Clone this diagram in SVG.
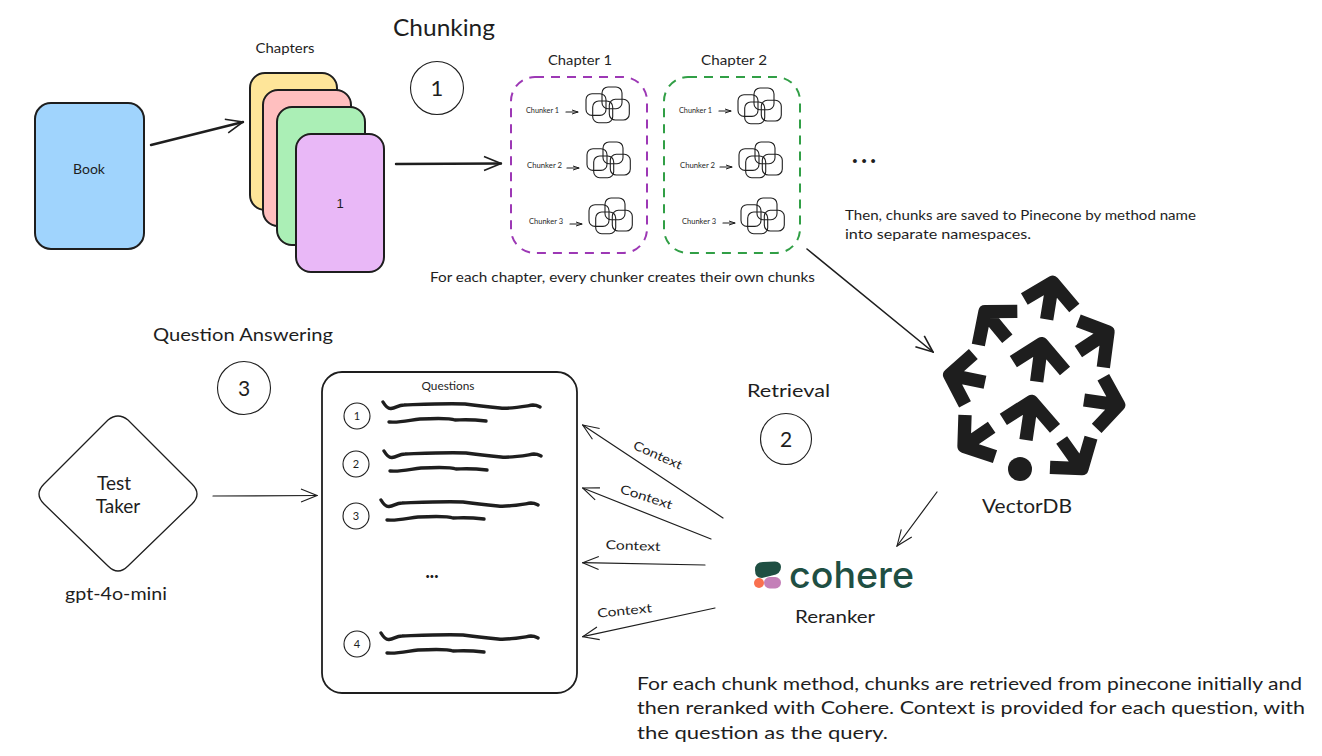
<svg xmlns="http://www.w3.org/2000/svg" xmlns:xlink="http://www.w3.org/1999/xlink" width="1322" height="756" viewBox="0 0 1322 756">
<style>
text{font-family:"Lato","Noto Sans",sans-serif;fill:#1e1e1e}
.m{text-anchor:middle}
.card{stroke:#1e1e1e;stroke-width:2}
.line{fill:none;stroke:#1e1e1e;stroke-width:1.2;stroke-linecap:round;stroke-linejoin:round}
.thick{stroke-width:2.4}
.num{fill:#fff;stroke:#1e1e1e;stroke-width:1.1}
.wave{fill:none;stroke:#1e1e1e;stroke-width:3.4;stroke-linecap:round;stroke-linejoin:round}
.lg{fill:none;stroke:#1e1e1e;stroke-width:40;stroke-linejoin:round}
.ck{fill:none;stroke:#1e1e1e;stroke-width:1.1}
.dash{fill:none;stroke-width:2;stroke-dasharray:9 7}
.soft{opacity:.99}
</style>
<defs>
<marker id="ah" viewBox="0 0 24 24" refX="23" refY="12" markerWidth="24" markerHeight="24" markerUnits="userSpaceOnUse" orient="auto"><path d="M7 5.5L23 12L7 18.5" fill="none" stroke="#1e1e1e" stroke-width="1.1"/></marker>
<marker id="ahb" viewBox="0 0 24 24" refX="23" refY="12" markerWidth="24" markerHeight="24" markerUnits="userSpaceOnUse" orient="auto"><path d="M6 5L23 12L6 19" fill="none" stroke="#1e1e1e" stroke-width="1.6"/></marker>
<marker id="ahs" viewBox="0 0 6 6" refX="6" refY="3" markerWidth="6" markerHeight="6" markerUnits="userSpaceOnUse" orient="auto"><path d="M0 1L6 3L0 5" fill="none" stroke="#1e1e1e" stroke-width="1"/></marker>
<g id="cluster">
<rect class="ck" x="0" y="6.7" width="20" height="21.7" rx="6"/>
<rect class="ck" x="16" y="0" width="20" height="21.7" rx="6"/>
<rect class="ck" x="6.7" y="14" width="20" height="21.7" rx="6"/>
<rect class="ck" x="23.3" y="12.3" width="20" height="20.7" rx="6"/>
</g>
<g id="waves">
<path class="wave" d="M383 402C386 407 388 409 391 408.500C396 408 398 405 404 405C430 404 450 403 465 404C480 406 490 407 500 408C510 409 520 407 533 405C537 405 538 406 540 407"/>
<path class="wave" d="M389 422C400 423 410 420 420 419C440 418 450 418 455 420C462 420 468 419 486 421"/>
</g>
</defs>

<g id="connectors">
<path class="line thick" marker-end="url(#ahb)" d="M151 145L243 122"/>
<path class="line thick" marker-end="url(#ahb)" d="M396 164L501 163.500"/>
<path class="line" style="stroke-width:1.6" marker-end="url(#ahb)" d="M807 249L933 352"/>
<path class="line" marker-end="url(#ah)" d="M937 492L897 546"/>
<path class="line" marker-end="url(#ah)" d="M213 496L317 495.500"/>
<path class="line" marker-end="url(#ah)" d="M723 518L582.700 425"/>
<path class="line" marker-end="url(#ah)" d="M711 539L582.700 488"/>
<path class="line" marker-end="url(#ah)" d="M705 565L582.700 562.700"/>
<path class="line" marker-end="url(#ah)" d="M715 608L582.700 636.700"/>
<path class="line" marker-end="url(#ahs)" d="M566 112L578 112"/>
<path class="line" marker-end="url(#ahs)" d="M567 168L579 168"/>
<path class="line" marker-end="url(#ahs)" d="M570 224L582 224"/>
<path class="line" marker-end="url(#ahs)" d="M719 111L731 111"/>
<path class="line" marker-end="url(#ahs)" d="M720 167L732 167"/>
<path class="line" marker-end="url(#ahs)" d="M723 223L735 223"/>
</g>

<g id="book"><rect class="card" x="35" y="103" width="109" height="146" rx="16" fill="#a0d4fd"/><text class="m" x="89" y="174" font-size="14">Book</text></g>

<g id="chapters">
<text class="m" x="285" y="53" font-size="13" textLength="59" lengthAdjust="spacingAndGlyphs">Chapters</text>
<rect class="card" x="250" y="73" width="87" height="137" rx="15" fill="#fee599"/>
<rect class="card" x="263" y="90" width="88" height="136" rx="15" fill="#ffbfbf"/>
<rect class="card" x="277" y="107" width="88" height="138" rx="15" fill="#abefb6"/>
<rect class="card" x="296" y="134" width="88" height="138" rx="15" fill="#e9b8f7"/>
<text class="m" x="340" y="208" font-size="13" style="font-family:'Liberation Sans',sans-serif">1</text>
</g>

<g id="chunking-title"><text x="393" y="36" font-size="24" textLength="102" lengthAdjust="spacingAndGlyphs">Chunking</text>
<circle class="num" cx="437" cy="88" r="26.500"/><text class="m" x="437" y="96" font-size="22">1</text></g>

<g id="chapter1" class="soft">
<text class="m" x="580" y="65" font-size="13.500" textLength="64" lengthAdjust="spacingAndGlyphs">Chapter 1</text>
<rect class="dash" stroke="#9c36b5" x="511" y="77" width="136" height="176" rx="24"/>
<text x="526" y="113" font-size="7.500" textLength="33" lengthAdjust="spacingAndGlyphs">Chunker 1</text>
<text x="527" y="168" font-size="7.500" textLength="35" lengthAdjust="spacingAndGlyphs">Chunker 2</text>
<text x="529" y="224" font-size="7.500" textLength="34" lengthAdjust="spacingAndGlyphs">Chunker 3</text>
<use xlink:href="#cluster" href="#cluster" x="586" y="87"/>
<use xlink:href="#cluster" href="#cluster" x="587" y="142"/>
<use xlink:href="#cluster" href="#cluster" x="589" y="198"/>
</g>
<g id="chapter2" class="soft">
<text class="m" x="734" y="65" font-size="13.500" textLength="66" lengthAdjust="spacingAndGlyphs">Chapter 2</text>
<rect class="dash" stroke="#2f9e44" x="664" y="77" width="136" height="176" rx="24"/>
<text x="679" y="113" font-size="7.500" textLength="33" lengthAdjust="spacingAndGlyphs">Chunker 1</text>
<text x="680" y="168" font-size="7.500" textLength="35" lengthAdjust="spacingAndGlyphs">Chunker 2</text>
<text x="682" y="224" font-size="7.500" textLength="34" lengthAdjust="spacingAndGlyphs">Chunker 3</text>
<use xlink:href="#cluster" href="#cluster" x="738" y="88"/>
<use xlink:href="#cluster" href="#cluster" x="739" y="142"/>
<use xlink:href="#cluster" href="#cluster" x="741" y="198"/>
</g>
<text x="430" y="282" font-size="14" textLength="385" lengthAdjust="spacingAndGlyphs">For each chapter, every chunker creates their own chunks</text>
<text x="852" y="163" font-size="24" font-weight="900" textLength="24" lengthAdjust="spacing">...</text>
<text x="845" y="220" font-size="13.500" textLength="351" lengthAdjust="spacingAndGlyphs">Then, chunks are saved to Pinecone by method name</text>
<text x="845" y="239" font-size="13.500" textLength="186" lengthAdjust="spacingAndGlyphs">into separate namespaces.</text>

<g id="vectordb">
<g transform="translate(930 265) scale(.33333)">
<path class="lg" d="M283 102L368 52L433 129M368 52L350 163"/>
<path class="lg" d="M262 139L165 140L145 240M165 140L232 221"/>
<path class="lg" d="M130 267L59 330L105 418M59 330L165 352"/>
<path class="lg" d="M105 450L102 544L195 575M102 544L185 487"/>
<path class="lg" d="M360 607L456 611L483 518M456 611L395 525"/>
<path class="lg" d="M520 337L566 420L500 490M566 420L462 405"/>
<path class="lg" d="M445 167L534 201L520 307M534 201L445 260"/>
<path class="lg" d="M250 290L335 236L405 318M335 236L320 350"/>
<path class="lg" d="M220 463L305 409L375 490M305 409L288 525"/>
<circle cx="270" cy="612" r="36" fill="#1e1e1e"/>
</g>
<text class="m" x="1027" y="513" font-size="18.500" textLength="90" lengthAdjust="spacingAndGlyphs">VectorDB</text>
</g>

<g id="cohere">
<path d="M755 570Q755 562 763 562L775 561.500Q781 562 781 567Q781 574 772 575.500L762 578Q755 578 755 570Z" fill="#1f4f43"/>
<circle cx="759" cy="583" r="5" fill="#f9704f"/>
<rect x="764" y="577" width="17" height="11.500" rx="5.700" fill="#c47fb8"/>
<text x="789" y="588" font-size="37" textLength="125" lengthAdjust="spacingAndGlyphs" style="fill:#1f4f43;font-weight:500;font-family:'Inter','Lato',sans-serif">cohere</text>
<text class="m" x="835" y="623" font-size="17" textLength="80" lengthAdjust="spacingAndGlyphs">Reranker</text>
</g>

<g id="retrieval-title"><text x="747" y="397" font-size="17" textLength="83" lengthAdjust="spacingAndGlyphs">Retrieval</text>
<circle class="num" cx="786" cy="439" r="25.500"/><text class="m" x="786" y="447" font-size="21">2</text></g>

<g id="qa-title"><text x="153" y="341" font-size="17" textLength="180" lengthAdjust="spacingAndGlyphs">Question Answering</text>
<circle class="num" cx="244" cy="388" r="26.500"/><text class="m" x="244" y="396" font-size="21">3</text></g>

<g id="test-taker">
<path d="M108 420Q118 412 128 420L192 484Q202 494 192 504L128 566Q118 576 108 566L44 504Q34 494 44 484Z" fill="#fff" stroke="#1e1e1e" stroke-width="1.300"/>
<text class="m" x="114" y="490" font-size="19">Test</text>
<text class="m" x="118" y="513" font-size="19">Taker</text>
<text class="m" x="116" y="600" font-size="17" textLength="102" lengthAdjust="spacingAndGlyphs">gpt-4o-mini</text>
</g>

<g id="questions">
<rect x="322" y="372" width="255" height="321" rx="20" fill="#fff" stroke="#1e1e1e" stroke-width="1.800"/>
<text class="m" x="448" y="390" font-size="10.500" textLength="53" lengthAdjust="spacingAndGlyphs">Questions</text>
<circle class="num" cx="357" cy="416" r="13"/><text class="m" x="357" y="420" font-size="11">1</text>
<circle class="num" cx="356" cy="464" r="13"/><text class="m" x="356" y="468" font-size="11">2</text>
<circle class="num" cx="356" cy="516" r="13"/><text class="m" x="356" y="520" font-size="11">3</text>
<circle class="num" cx="357" cy="644" r="13"/><text class="m" x="357" y="648" font-size="11">4</text>
<use xlink:href="#waves" href="#waves"/>
<use xlink:href="#waves" href="#waves" x="1" y="49"/>
<use xlink:href="#waves" href="#waves" x="-2" y="98"/>
<use xlink:href="#waves" href="#waves" x="-2" y="231"/>
<text class="m" x="432" y="578" font-size="18" font-weight="900">...</text>
</g>

<g id="context-labels">
<text class="m" transform="translate(656 459) rotate(24)" font-size="12.500" textLength="52" lengthAdjust="spacingAndGlyphs">Context</text>
<text class="m" transform="translate(645 501) rotate(18)" font-size="12.500" textLength="54" lengthAdjust="spacingAndGlyphs">Context</text>
<text class="m" transform="translate(633 550) rotate(2)" font-size="12.500" textLength="55" lengthAdjust="spacingAndGlyphs">Context</text>
<text class="m" transform="translate(625 615) rotate(-6)" font-size="12.500" textLength="55" lengthAdjust="spacingAndGlyphs">Context</text>
</g>

<g id="note">
<text x="637" y="690" font-size="18" textLength="665" lengthAdjust="spacingAndGlyphs">For each chunk method, chunks are retrieved from pinecone initially and</text>
<text x="637" y="714" font-size="18" textLength="668" lengthAdjust="spacingAndGlyphs">then reranked with Cohere. Context is provided for each question, with</text>
<text x="637" y="739" font-size="18" textLength="251" lengthAdjust="spacingAndGlyphs">the question as the query.</text>
</g>
</svg>
